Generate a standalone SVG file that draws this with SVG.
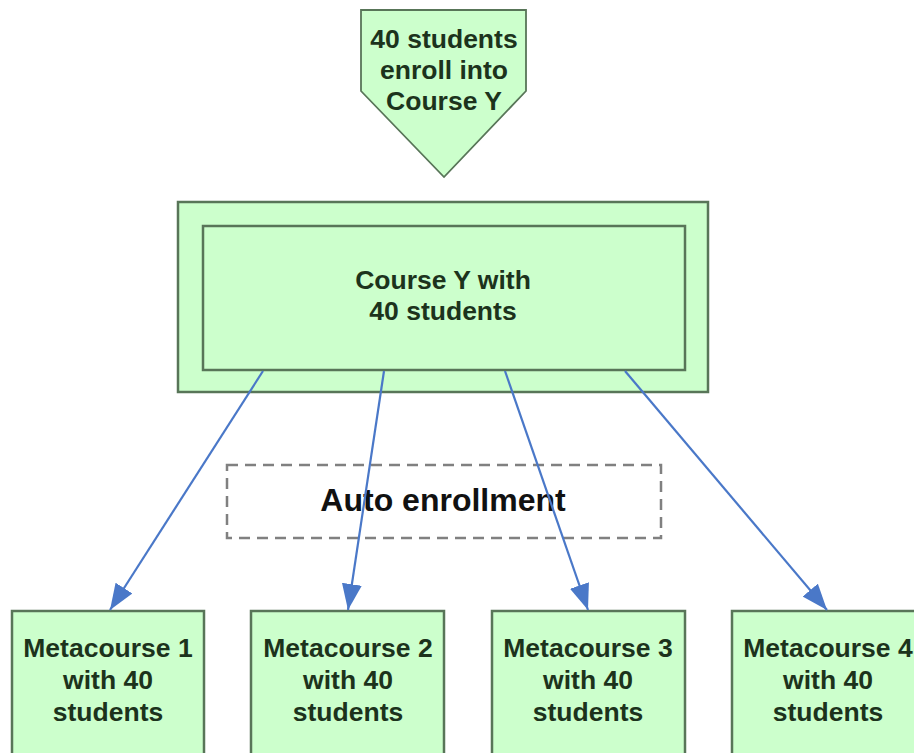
<svg xmlns="http://www.w3.org/2000/svg" width="914" height="753" viewBox="0 0 914 753">
<style>
.node{fill:#ccffcc;stroke:#587558;stroke-width:2.5}
.t{font-family:"Liberation Sans",Arial,sans-serif;font-weight:bold;font-size:26.5px;fill:#1c331c;text-anchor:middle}
.big{font-size:32px;fill:#111111}
.conn{stroke:#4a78c8;stroke-width:2.2;fill:none}
</style>
<defs>
<marker id="arrow" viewBox="0 0 26 20" refX="26" refY="10" markerWidth="26" markerHeight="20" markerUnits="userSpaceOnUse" orient="auto">
<path d="M0,0 L26,10 L0,20 Z" fill="#4a78c8"/>
</marker>
</defs>
<rect width="914" height="753" fill="#ffffff"/>
<g id="enroll-input">
<polygon class="node" style="stroke-width:1.8" points="361,10 526,10 526,91 444,177 361,91"/>
<text class="t" x="444" y="48">40 students</text>
<text class="t" x="444" y="79">enroll into</text>
<text class="t" x="444" y="110">Course Y</text>
</g>
<g id="course-y">
<rect class="node" x="178" y="202" width="530" height="190"/>
<rect class="node" x="203" y="226" width="482" height="144"/>
<text class="t" x="443" y="289">Course Y with</text>
<text class="t" x="443" y="320">40 students</text>
</g>
<g id="auto-enrollment">
<rect x="227" y="465" width="434" height="73" fill="none" stroke="#808080" stroke-width="2.5" stroke-dasharray="11 7"/>
<text class="t big" x="443" y="511">Auto enrollment</text>
</g>
<g id="meta1">
<rect class="node" x="12" y="611" width="192" height="150"/>
<text class="t" x="108" y="657">Metacourse 1</text>
<text class="t" x="108" y="689">with 40</text>
<text class="t" x="108" y="721">students</text>
</g>
<g id="meta2">
<rect class="node" x="251" y="611" width="193" height="150"/>
<text class="t" x="348" y="657">Metacourse 2</text>
<text class="t" x="348" y="689">with 40</text>
<text class="t" x="348" y="721">students</text>
</g>
<g id="meta3">
<rect class="node" x="492" y="611" width="193" height="150"/>
<text class="t" x="588" y="657">Metacourse 3</text>
<text class="t" x="588" y="689">with 40</text>
<text class="t" x="588" y="721">students</text>
</g>
<g id="meta4">
<rect class="node" x="732" y="611" width="193" height="150"/>
<text class="t" x="828" y="657">Metacourse 4</text>
<text class="t" x="828" y="689">with 40</text>
<text class="t" x="828" y="721">students</text>
</g>
<g id="connectors">
<line class="conn" x1="263" y1="371" x2="110" y2="610" marker-end="url(#arrow)"/>
<line class="conn" x1="384" y1="371" x2="348" y2="610" marker-end="url(#arrow)"/>
<line class="conn" x1="505" y1="371" x2="588" y2="610" marker-end="url(#arrow)"/>
<line class="conn" x1="625" y1="371" x2="827" y2="610" marker-end="url(#arrow)"/>
</g>
</svg>
